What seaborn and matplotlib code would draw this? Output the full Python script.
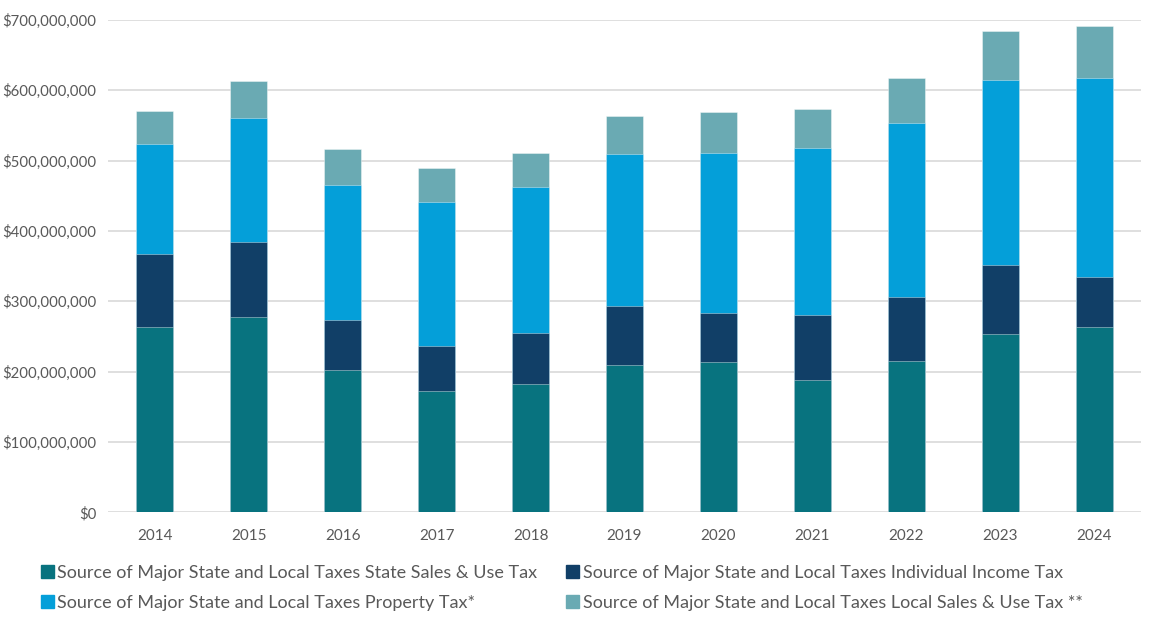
import matplotlib
matplotlib.use("Agg")
import matplotlib.pyplot as plt
import matplotlib.patches as mpatches
from matplotlib.ticker import FuncFormatter
import numpy as np
import pandas as pd
import seaborn as sns

years = ["2014", "2015", "2016", "2017", "2018", "2019", "2020", "2021", "2022", "2023", "2024"]
state_sales = [263, 277, 203, 173, 182, 210, 214, 188, 215, 254, 263]   # $ millions
income_tax = [104, 108, 71, 63, 73, 83, 70, 93, 91, 97, 72]
property_tax = [157, 176, 192, 205, 207, 217, 227, 237, 247, 263, 282]
local_sales = [46, 52, 51, 48, 49, 54, 58, 56, 64, 71, 74]

series_names = [
    "Source of Major State and Local Taxes State Sales & Use Tax",
    "Source of Major State and Local Taxes Individual Income Tax",
    "Source of Major State and Local Taxes Property Tax*",
    "Source of Major State and Local Taxes Local Sales & Use Tax **",
]
colors = ["#08737F", "#113F67", "#049FD9", "#6AAAB3"]

df = pd.DataFrame({
    "year": years,
    "state": np.array(state_sales) * 1e6,
    "income": np.array(income_tax) * 1e6,
    "property": np.array(property_tax) * 1e6,
    "local": np.array(local_sales) * 1e6,
})
cols = ["state", "income", "property", "local"]
cum = df[cols].cumsum(axis=1)

sns.set_theme(style="white")
plt.rcParams["font.family"] = ["Lato", "DejaVu Sans"]

fig = plt.figure(figsize=(11.49, 6.2), dpi=100)
ax = fig.add_axes([108 / 1149, (620 - 512.3) / 620, (1141 - 108) / 1149, (512.3 - 20) / 620])

# stacked bars: draw cumulative totals from the top layer down
for col, color in zip(reversed(cols), reversed(colors)):
    sns.barplot(x=df["year"], y=cum[col], color=color, width=0.394, ax=ax,
                edgecolor=(1, 1, 1, 0.45), linewidth=0.6, saturation=1, zorder=3)

ax.set_ylim(0, 700e6)
ax.set_yticks(np.arange(0, 700e6 + 1, 100e6))
ax.yaxis.set_major_formatter(FuncFormatter(lambda v, p: "$0" if v == 0 else f"${v:,.0f}"))
ax.grid(axis="y", color="#D9D9D9", linewidth=1.2, zorder=0)
ax.set_axisbelow(True)
for s in ax.spines.values():
    s.set_visible(False)
ax.tick_params(axis="both", length=0, colors="#595959")
ax.tick_params(axis="y", pad=8.5, labelsize=10.8)
ax.tick_params(axis="x", pad=12, labelsize=11)
ax.set_xlabel("")
ax.set_ylabel("")

# legend: two columns, filled column by column
order = [0, 2, 1, 3]
handles = [mpatches.Patch(color=colors[i], label=series_names[i]) for i in order]
fig.legend(handles=handles, ncol=2, loc="center", bbox_to_anchor=(0.489, 0.0516), frameon=False,
           fontsize=13, labelcolor="#595959", handlelength=0.7, handleheight=0.7,
           handletextpad=0.2, columnspacing=1.6, labelspacing=0.78,
           borderaxespad=0, bbox_transform=fig.transFigure)

fig.savefig("out.png", dpi=100)
